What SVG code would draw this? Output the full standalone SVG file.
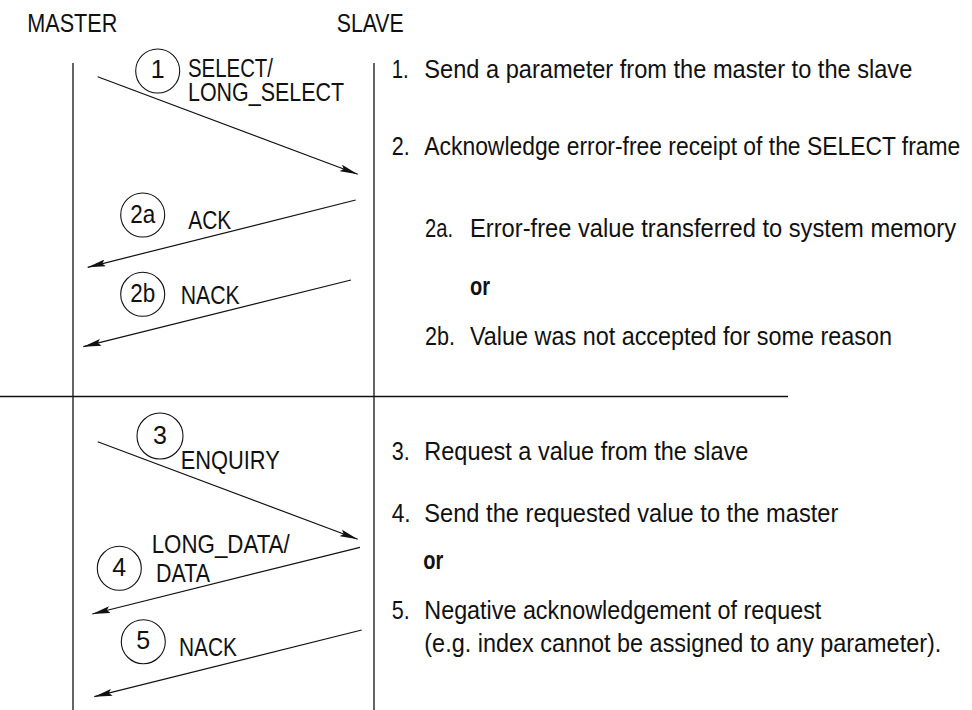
<svg xmlns="http://www.w3.org/2000/svg" width="972" height="710" viewBox="0 0 972 710">
<style>
text{font-family:"Liberation Sans",Arial,sans-serif;font-size:25px;fill:#111}
.b{font-weight:bold}
.m{text-anchor:middle}
.ln{stroke:#111;stroke-width:1.3;fill:none}
.ar{stroke:#111;stroke-width:1.2;fill:none;marker-end:url(#ah)}
.c{stroke:#111;stroke-width:1.1;fill:none}
</style>
<defs>
<marker id="ah" viewBox="0 0 18 7" refX="18" refY="3.5" markerWidth="18" markerHeight="7" markerUnits="userSpaceOnUse" orient="auto">
<path d="M0,0 L18,3.5 L0,7 L3,3.5 z" fill="#111"/>
</marker>
</defs>
<g id="headers">
<text x="27.3" y="32" textLength="90" lengthAdjust="spacingAndGlyphs">MASTER</text>
<text x="336.7" y="32" textLength="67" lengthAdjust="spacingAndGlyphs">SLAVE</text>
</g>
<g id="lifelines">
<line class="ln" x1="73" y1="63" x2="73" y2="710"/>
<line class="ln" x1="374" y1="63" x2="374" y2="710"/>
<line class="ln" x1="0" y1="396.5" x2="788" y2="396.5"/>
</g>
<g id="connectors">
<line class="ar" x1="97.7" y1="76.7" x2="357.7" y2="174.3"/>
<line class="ar" x1="355.7" y1="200" x2="87.7" y2="267.3"/>
<line class="ar" x1="351" y1="280" x2="83.3" y2="346.7"/>
<line class="ar" x1="97.7" y1="441.7" x2="357.7" y2="539.3"/>
<line class="ar" x1="360" y1="547.3" x2="92.3" y2="614"/>
<line class="ar" x1="361.7" y1="630" x2="94.3" y2="696.7"/>
</g>
<g id="step1">
<circle class="c" cx="157.7" cy="71" r="22"/>
<text class="m" x="157.7" y="78">1</text>
<text x="188" y="77" textLength="85" lengthAdjust="spacingAndGlyphs">SELECT/</text>
<text x="188" y="101" textLength="156" lengthAdjust="spacingAndGlyphs">LONG_SELECT</text>
</g>
<g id="step2a">
<circle class="c" cx="142.7" cy="215" r="22"/>
<text class="m" x="142.7" y="222.5" textLength="25" lengthAdjust="spacingAndGlyphs">2a</text>
<text x="188.3" y="228.5" textLength="43" lengthAdjust="spacingAndGlyphs">ACK</text>
</g>
<g id="step2b">
<circle class="c" cx="142.7" cy="294.3" r="22"/>
<text class="m" x="142.7" y="301.8" textLength="25" lengthAdjust="spacingAndGlyphs">2b</text>
<text x="180.7" y="303.5" textLength="59" lengthAdjust="spacingAndGlyphs">NACK</text>
</g>
<g id="step3">
<circle class="c" cx="160" cy="436" r="23"/>
<text class="m" x="160" y="443.5">3</text>
<text x="180.7" y="468.5" textLength="99" lengthAdjust="spacingAndGlyphs">ENQUIRY</text>
</g>
<g id="step4">
<circle class="c" cx="119.3" cy="568.3" r="22"/>
<text class="m" x="119.3" y="575.8">4</text>
<text x="151.7" y="553" textLength="138" lengthAdjust="spacingAndGlyphs">LONG_DATA/</text>
<text x="156" y="582" textLength="54" lengthAdjust="spacingAndGlyphs">DATA</text>
</g>
<g id="step5">
<circle class="c" cx="143.3" cy="641.7" r="22"/>
<text class="m" x="143.3" y="649.2">5</text>
<text x="179" y="656" textLength="58" lengthAdjust="spacingAndGlyphs">NACK</text>
</g>
<g id="descriptions">
<text x="391.7" y="78" textLength="17" lengthAdjust="spacingAndGlyphs">1.</text><text x="424.3" y="78" textLength="488" lengthAdjust="spacingAndGlyphs">Send a parameter from the master to the slave</text>
<text x="391.7" y="155" textLength="18" lengthAdjust="spacingAndGlyphs">2.</text><text x="424.3" y="155" textLength="536" lengthAdjust="spacingAndGlyphs">Acknowledge error-free receipt of the SELECT frame</text>
<text x="425" y="237" textLength="28" lengthAdjust="spacingAndGlyphs">2a.</text><text x="470" y="237" textLength="486" lengthAdjust="spacingAndGlyphs">Error-free value transferred to system memory</text>
<text class="b" x="470" y="295" textLength="20" lengthAdjust="spacingAndGlyphs">or</text>
<text x="425" y="345" textLength="30" lengthAdjust="spacingAndGlyphs">2b.</text><text x="470" y="345" textLength="422" lengthAdjust="spacingAndGlyphs">Value was not accepted for some reason</text>
<text x="391.7" y="459.5" textLength="18" lengthAdjust="spacingAndGlyphs">3.</text><text x="424.3" y="459.5" textLength="324" lengthAdjust="spacingAndGlyphs">Request a value from the slave</text>
<text x="391.7" y="522" textLength="19" lengthAdjust="spacingAndGlyphs">4.</text><text x="424.3" y="522" textLength="414" lengthAdjust="spacingAndGlyphs">Send the requested value to the master</text>
<text class="b" x="423.3" y="568.5" textLength="20" lengthAdjust="spacingAndGlyphs">or</text>
<text x="391.7" y="618.5" textLength="18" lengthAdjust="spacingAndGlyphs">5.</text><text x="424.3" y="618.5" textLength="397" lengthAdjust="spacingAndGlyphs">Negative acknowledgement of request</text>
<text x="424.3" y="652" textLength="517" lengthAdjust="spacingAndGlyphs">(e.g. index cannot be assigned to any parameter).</text>
</g>
</svg>
